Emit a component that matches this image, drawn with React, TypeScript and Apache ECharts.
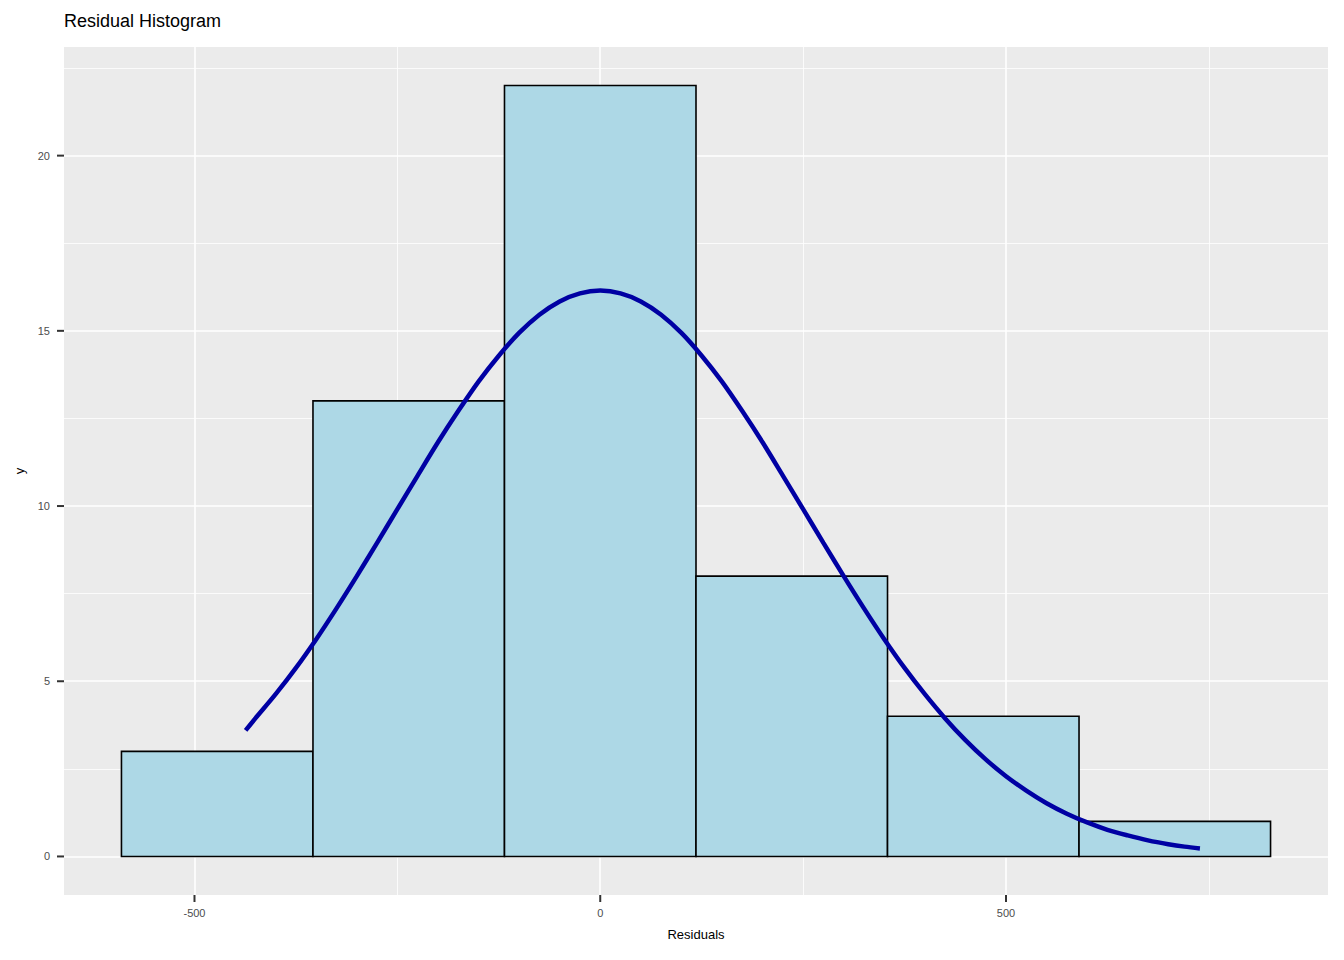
import React, { useEffect, useRef } from "react";
import * as echarts from "echarts";

// Histogram bins (bin edges) and counts
const binStarts = [-590, -354, -118, 118, 354, 590];
const binEnds = [-354, -118, 118, 354, 590, 826];
const counts = [3, 13, 22, 8, 4, 1];

// Fitted normal curve
const curveX = [-437, -425, -400, -375, -350, -325, -300, -275, -250, -225, -200, -175, -150, -125, -100, -75, -50, -25, 0, 25, 50, 75, 100, 125, 150, 175, 200, 225, 250, 275, 300, 325, 350, 375, 400, 425, 450, 475, 500, 525, 550, 575, 600, 625, 650, 675, 700, 720, 739];
const curveY = [3.6, 3.94, 4.63, 5.38, 6.2, 7.08, 8.0, 8.95, 9.91, 10.87, 11.82, 12.71, 13.55, 14.29, 14.94, 15.46, 15.84, 16.07, 16.15, 16.07, 15.84, 15.46, 14.94, 14.29, 13.55, 12.71, 11.82, 10.87, 9.91, 8.95, 8.0, 7.08, 6.2, 5.38, 4.63, 3.94, 3.32, 2.77, 2.29, 1.88, 1.52, 1.22, 0.97, 0.76, 0.6, 0.46, 0.35, 0.28, 0.23];

// Axis ticks and grid
const xTicks = [-500, 0, 500];
const xTickLabels = ["-500", "0", "500"];
const xMinor = [-750, -250, 250, 750];
const yTicks = [0, 5, 10, 15, 20];
const yTickLabels = ["0", "5", "10", "15", "20"];
const yMinor = [2.5, 7.5, 12.5, 17.5, 22.5];

const X_MIN = -660.8;
const X_MAX = 896.8;
const Y_MIN = -1.1;
const Y_MAX = 23.1;

const FONT = "'Liberation Sans', Arial, sans-serif";

export default function App() {
  const ref = useRef<HTMLDivElement>(null);
  useEffect(() => {
    if (!ref.current) return;
    const chart = echarts.init(ref.current, undefined, { renderer: "svg" });
    const gridLines: any[] = [];
    xMinor.forEach((v) => gridLines.push({ xAxis: v, lineStyle: { width: 0.8 } }));
    yMinor.forEach((v) => gridLines.push({ yAxis: v, lineStyle: { width: 0.8 } }));
    xTicks.forEach((v) => gridLines.push({ xAxis: v, lineStyle: { width: 1.6 } }));
    yTicks.forEach((v) => gridLines.push({ yAxis: v, lineStyle: { width: 1.6 } }));

    chart.setOption({
      animation: false,
      title: {
        text: "Residual Histogram",
        left: 59,
        top: 7,
        textStyle: { fontFamily: FONT, fontSize: 18, fontWeight: "normal", color: "#000" },
      },
      grid: {
        left: 64,
        right: 16,
        top: 47,
        bottom: 65,
        show: true,
        backgroundColor: "#EBEBEB",
        borderWidth: 0,
      },
      xAxis: {
        type: "value",
        min: X_MIN,
        max: X_MAX,
        name: "Residuals",
        nameLocation: "middle",
        nameGap: 33,
        nameTextStyle: { fontFamily: FONT, fontSize: 13, color: "#000" },
        axisLine: { show: false, onZero: false },
        splitLine: { show: false },
        axisTick: { show: false },
        axisLabel: { show: false },
      },
      yAxis: {
        type: "value",
        min: Y_MIN,
        max: Y_MAX,
        name: "y",
        nameLocation: "middle",
        nameGap: 38,
        nameRotate: 90,
        nameTextStyle: { fontFamily: FONT, fontSize: 13, color: "#000" },
        axisLine: { show: false, onZero: false },
        splitLine: { show: false },
        axisTick: { show: false },
        axisLabel: { show: false },
      },
      series: [
        {
          type: "line",
          data: [],
          z: 1,
          silent: true,
          markLine: {
            z: 0,
            silent: true,
            symbol: ["none", "none"],
            label: { show: false },
            lineStyle: { color: "#FFFFFF", type: "solid" },
            emphasis: { disabled: true },
            data: gridLines,
          },
        },
        {
          type: "custom",
          z: 2,
          silent: true,
          data: binStarts.map((s, i) => [s, binEnds[i], counts[i]]),
          encode: { x: [0, 1], y: 2 },
          renderItem: (params: any, api: any) => {
            const p0 = api.coord([api.value(0), api.value(2)]);
            const p1 = api.coord([api.value(1), 0]);
            return {
              type: "rect",
              shape: { x: p0[0], y: p0[1], width: p1[0] - p0[0], height: p1[1] - p0[1] },
              style: { fill: "#ADD8E6", stroke: "#000000", lineWidth: 1.6 },
            };
          },
        },
        {
          type: "line",
          z: 3,
          silent: true,
          smooth: 0.3,
          showSymbol: false,
          data: curveX.map((x, i) => [x, curveY[i]]),
          lineStyle: { color: "#0000A3", width: 4.5, cap: "butt" },
        },
      ],
    });

    // Axis ticks and tick labels placed through the chart's own scales
    const finder = { xAxisIndex: 0, yAxisIndex: 0 };
    const graphics: any[] = [];
    xTicks.forEach((v, i) => {
      const p = chart.convertToPixel(finder, [v, Y_MIN]) as number[];
      graphics.push({
        type: "rect",
        silent: true,
        shape: { x: p[0] - 1, y: p[1], width: 2, height: 7 },
        style: { fill: "#333333" },
      });
      graphics.push({
        type: "text",
        silent: true,
        x: p[0],
        y: p[1] + 12,
        style: {
          text: xTickLabels[i],
          fill: "#4D4D4D",
          font: `11px ${FONT}`,
          textAlign: "center",
          textVerticalAlign: "top",
        },
      });
    });
    yTicks.forEach((v, i) => {
      const p = chart.convertToPixel(finder, [X_MIN, v]) as number[];
      graphics.push({
        type: "rect",
        silent: true,
        shape: { x: p[0] - 7, y: p[1] - 1, width: 7, height: 2 },
        style: { fill: "#333333" },
      });
      graphics.push({
        type: "text",
        silent: true,
        x: p[0] - 14,
        y: p[1],
        style: {
          text: yTickLabels[i],
          fill: "#4D4D4D",
          font: `11px ${FONT}`,
          textAlign: "right",
          textVerticalAlign: "middle",
        },
      });
    });
    chart.setOption({ graphic: graphics });

    return () => chart.dispose();
  }, []);
  return <div ref={ref} style={{ width: 1344, height: 960, position: "absolute", left: 0, top: 0 }} />;
}
